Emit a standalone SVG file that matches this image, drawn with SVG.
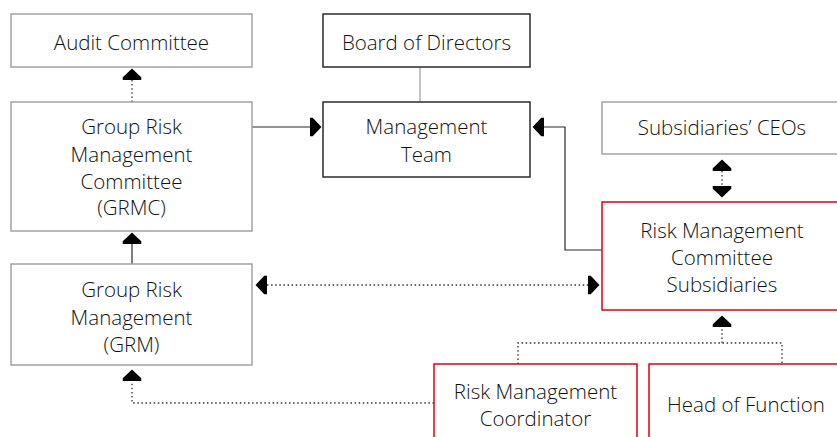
<svg xmlns="http://www.w3.org/2000/svg" width="837" height="437" viewBox="0 0 837 437">
<style>
.box{fill:#fff;stroke-width:1.5}
.gray{stroke:#a3a3a3}
.black{stroke:#2b2b2b}
.red{stroke:#e3000f}
text{font-family:"Open Sans","Noto Sans","Liberation Sans",sans-serif;font-weight:300;font-size:20.5px;fill:#111;text-anchor:middle}
.solid{fill:none;stroke:#2b2b2b;stroke-width:1.2}
.thin{fill:none;stroke:#9a9a9a;stroke-width:1.2}
.dot{fill:none;stroke:#333;stroke-width:1.3;stroke-dasharray:1.5 2.6}
</style>
<defs>
<marker id="ah" markerUnits="userSpaceOnUse" markerWidth="12" markerHeight="20" viewBox="0 -9 11 18" refX="0" refY="0" orient="auto-start-reverse">
<path d="M0,-8.5 L2.5,-8.5 L10.5,0 L2.5,8.5 L0,8.5 Z" fill="#000"/>
</marker>
</defs>
<g id="connectors">
<path class="dot" d="M132,102 V80" marker-end="url(#ah)"/>
<path class="thin" d="M420,67 V102"/>
<path class="solid" d="M252,127 H310" marker-end="url(#ah)"/>
<path class="solid" d="M132,264 V244" marker-end="url(#ah)"/>
<path class="dot" d="M267,285 H588" marker-start="url(#ah)" marker-end="url(#ah)"/>
<path class="solid" d="M602,250 H565 V127 H544" marker-end="url(#ah)"/>
<path class="dot" d="M722,171 V186" marker-start="url(#ah)" marker-end="url(#ah)"/>
<path class="dot" d="M518,364 V343 H782 V364"/>
<path class="dot" d="M722,343 V327" marker-end="url(#ah)"/>
<path class="dot" d="M434,403 H132 V381" marker-end="url(#ah)"/>
</g>
<g id="audit">
<rect class="box gray" x="11" y="14" width="241" height="53"/>
<text x="131.5" y="49.5">Audit Committee</text>
</g>
<g id="board">
<rect class="box black" x="323" y="14" width="207" height="53"/>
<text x="426.5" y="49.5">Board of Directors</text>
</g>
<g id="mgmt">
<rect class="box black" x="323" y="102" width="207" height="75"/>
<text x="426.5" y="134">Management</text>
<text x="426.5" y="161.5">Team</text>
</g>
<g id="grmc">
<rect class="box gray" x="11" y="102" width="241" height="129"/>
<text x="131.5" y="134">Group Risk</text>
<text x="131.5" y="161.5">Management</text>
<text x="131.5" y="188.5">Committee</text>
<text x="131.5" y="215">(GRMC)</text>
</g>
<g id="grm">
<rect class="box gray" x="11" y="264" width="241" height="101"/>
<text x="131.5" y="297">Group Risk</text>
<text x="131.5" y="324.5">Management</text>
<text x="131.5" y="352">(GRM)</text>
</g>
<g id="ceos">
<rect class="box gray" x="602" y="102" width="245" height="52"/>
<text x="722" y="135">Subsidiaries’ CEOs</text>
</g>
<g id="rmcs">
<rect class="box red" x="602" y="202" width="245" height="108"/>
<text x="722" y="238">Risk Management</text>
<text x="722" y="265">Committee</text>
<text x="722" y="291.5">Subsidiaries</text>
</g>
<g id="rmc">
<rect class="box red" x="434" y="364" width="203" height="80"/>
<text x="535.5" y="399">Risk Management</text>
<text x="535.5" y="425.5">Coordinator</text>
</g>
<g id="hof">
<rect class="box red" x="649" y="364" width="200" height="80"/>
<text x="746" y="412">Head of Function</text>
</g>
</svg>
